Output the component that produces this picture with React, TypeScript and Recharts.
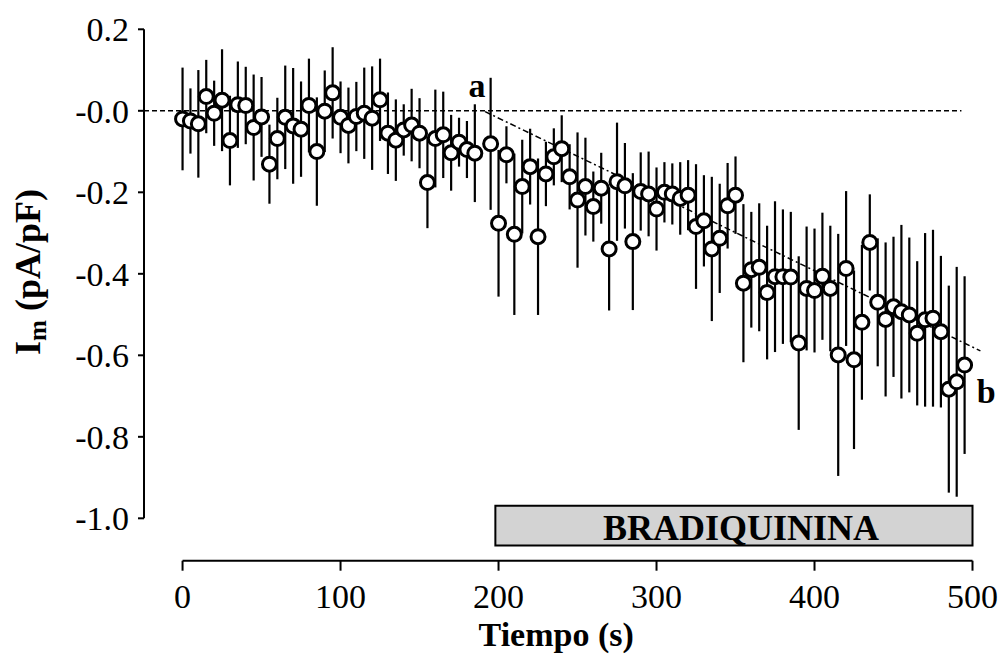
import React from 'react';
import {
  ScatterChart,
  Scatter,
  XAxis,
  YAxis,
  ErrorBar,
  ReferenceLine,
  ReferenceArea,
  ReferenceDot,
} from 'recharts';

// ---- data ----
const times = [
  0, 5, 10, 15, 20, 25, 30, 35, 40, 45, 50, 55, 60, 65, 70, 75, 80, 85, 90, 95,
  100, 105, 110, 115, 120, 125, 130, 135, 140, 145, 150, 155, 160, 165, 170, 175, 180, 185,
  195, 200, 205, 210, 215, 220, 225, 230, 235, 240, 245, 250, 255, 260, 265, 270, 275, 280,
  285, 290, 295, 300, 305, 310, 315, 320, 325, 330, 335, 340, 345, 350, 355, 360, 365, 370,
  375, 380, 385, 390, 395, 400, 405, 410, 415, 420, 425, 430, 435, 440, 445, 450, 455, 460,
  465, 470, 475, 480, 485, 490, 495,
];
const currents = [
  -0.02, -0.025, -0.032, 0.035, -0.006, 0.026, -0.073, 0.015, 0.013, -0.041, -0.015, -0.131,
  -0.068, -0.016, -0.037, -0.045, 0.013, -0.1, -0.001, 0.044,
  -0.016, -0.036, -0.014, -0.006, -0.018, 0.027, -0.055, -0.072, -0.047, -0.035, -0.055, -0.176,
  -0.068, -0.059, -0.103, -0.077, -0.095, -0.104,
  -0.081, -0.276, -0.108, -0.303, -0.186, -0.137, -0.309, -0.155, -0.113, -0.093, -0.162, -0.219,
  -0.186, -0.235, -0.19, -0.339, -0.174, -0.184,
  -0.321, -0.198, -0.204, -0.241, -0.2, -0.204, -0.215, -0.207, -0.284, -0.27, -0.339, -0.313,
  -0.233, -0.207, -0.423, -0.39, -0.384, -0.446,
  -0.407, -0.407, -0.408, -0.57, -0.436, -0.441, -0.406, -0.436, -0.599, -0.387, -0.611, -0.519,
  -0.323, -0.47, -0.512, -0.481, -0.493, -0.501,
  -0.546, -0.513, -0.509, -0.542, -0.683, -0.665, -0.624,
];
const errors = [
  0.126, 0.08, 0.132, 0.09, 0.08, 0.125, 0.11, 0.106, 0.095, 0.13, 0.098, 0.097,
  0.1, 0.127, 0.142, 0.117, 0.115, 0.133, 0.1, 0.112,
  0.088, 0.093, 0.085, 0.112, 0.127, 0.101, 0.1, 0.1, 0.063, 0.089, 0.086, 0.112,
  0.12, 0.106, 0.093, 0.06, 0.07, 0.12,
  0.162, 0.18, 0.07, 0.198, 0.115, 0.093, 0.192, 0.079, 0.07, 0.082, 0.08, 0.166,
  0.12, 0.086, 0.087, 0.151, 0.145, 0.105,
  0.168, 0.096, 0.104, 0.102, 0.074, 0.075, 0.089, 0.086, 0.153, 0.112, 0.177, 0.134,
  0.105, 0.095, 0.194, 0.142, 0.157, 0.164,
  0.185, 0.165, 0.16, 0.213, 0.152, 0.152, 0.156, 0.154, 0.297, 0.19, 0.219, 0.19,
  0.118, 0.157, 0.189, 0.172, 0.213, 0.19,
  0.177, 0.213, 0.217, 0.186, 0.254, 0.282, 0.218,
];

const xTicks = [0, 100, 200, 300, 400, 500];
const yTicks = [0.2, 0, -0.2, -0.4, -0.6, -0.8, -1.0];

const xTitle = 'Tiempo (s)';
const yTitleMain = 'I';
const yTitleSub = 'm';
const yTitleUnit = ' (pA/pF)';

const stimulusLabel = 'BRADIQUININA';
const stimulusStart = 198;
const stimulusEnd = 500;
const stimulusTop = -0.969;
const stimulusBottom = -1.067;

// baseline and trend segments (endpoints in data units)
const baselineStart = { x: -24.4, y: 0 };
const baselineEnd = { x: 493, y: 0 };
const trendStart = { x: 191.5, y: -0.002 };
const trendEnd = { x: 505, y: -0.589 };

// point labels
const labelA = { text: 'a', x: 181, y: 0.034 };
const labelB = { text: 'b', x: 502.7, y: -0.717 };

const X_DOMAIN: [number, number] = [-24.4, 505];
const Y_DOMAIN: [number, number] = [-1.104, 0.2];

const data = times.map((t, i) => ({ t, v: currents[i], err: errors[i] }));

const FONT = '"Liberation Serif", "Times New Roman", Times, serif';

const Circle = (props: any) => {
  const { cx, cy } = props;
  if (cx == null || cy == null) return null;
  return <circle cx={cx} cy={cy} r={7} fill="#fff" stroke="#000" strokeWidth={3} />;
};

const textShape = (txt: string) => (props: any) => (
  <text
    x={props.cx}
    y={props.cy}
    fontFamily={FONT}
    fontWeight="bold"
    fontSize={34}
    fill="#000"
    textAnchor="start"
  >
    {txt}
  </text>
);

const fmtY = (v: number) => (Math.abs(v) < 1e-9 ? '-0.0' : v.toFixed(1));

export default function App() {
  return (
    <div style={{ position: 'absolute', left: 0, top: 0, width: 999, height: 661 }}>
      <ScatterChart
        width={999}
        height={661}
        margin={{ top: 29.3, right: 18.6, bottom: 20.3, left: 0 }}
        style={{ fontFamily: FONT }}
      >
        <XAxis
          type="number"
          dataKey="t"
          domain={X_DOMAIN}
          allowDataOverflow
          ticks={xTicks}
          axisLine={false}
          tickLine={{ stroke: '#000', strokeWidth: 2 }}
          tickSize={10}
          tickMargin={13}
          height={80}
          tick={{ fill: '#000', fontSize: 34, fontFamily: FONT }}
          label={{
            content: (p: any) => {
              const vb = p.viewBox || {};
              return (
                <text
                  x={vb.x + vb.width / 2 - 6}
                  y={646}
                  textAnchor="middle"
                  fontFamily={FONT}
                  fontWeight="bold"
                  fontSize={34}
                  fill="#000"
                >
                  {xTitle}
                </text>
              );
            },
          }}
        />
        <YAxis
          type="number"
          dataKey="v"
          domain={Y_DOMAIN}
          allowDataOverflow
          ticks={yTicks}
          tickFormatter={fmtY}
          axisLine={false}
          tickLine={{ stroke: '#000', strokeWidth: 2 }}
          tickSize={6}
          tickMargin={9}
          width={144}
          tick={{ fill: '#000', fontSize: 34, fontFamily: FONT }}
          label={{
            content: () => (
              <text
                x={28}
                y={272}
                transform="rotate(-90, 28, 272)"
                textAnchor="middle"
                dominantBaseline="central"
                fontFamily={FONT}
                fontWeight="bold"
                fontSize={36}
                fill="#000"
              >
                {yTitleMain}
                <tspan fontSize={25} dy={9}>
                  {yTitleSub}
                </tspan>
                <tspan dy={-9}>{yTitleUnit}</tspan>
              </text>
            ),
          }}
        />

        {/* axis lines drawn as offset segments */}
        <ReferenceLine
          segment={[
            { x: X_DOMAIN[0], y: yTicks[yTicks.length - 1] },
            { x: X_DOMAIN[0], y: yTicks[0] },
          ]}
          stroke="#000"
          strokeWidth={2}
          ifOverflow="visible"
        />
        <ReferenceLine
          segment={[
            { x: xTicks[0], y: Y_DOMAIN[0] },
            { x: xTicks[xTicks.length - 1], y: Y_DOMAIN[0] },
          ]}
          stroke="#000"
          strokeWidth={2}
          ifOverflow="visible"
        />

        <ReferenceArea
          x1={stimulusStart}
          x2={stimulusEnd}
          y1={stimulusBottom}
          y2={stimulusTop}
          fill="#d3d3d3"
          fillOpacity={1}
          stroke="#000"
          strokeWidth={2}
          ifOverflow="visible"
          label={{
            content: (p: any) => {
              const vb = p.viewBox || {};
              return (
                <text
                  x={vb.x + vb.width / 2 + 7}
                  y={vb.y + vb.height / 2 + 2}
                  textAnchor="middle"
                  dominantBaseline="central"
                  fontFamily={FONT}
                  fontWeight="bold"
                  fontSize={36}
                  fill="#000"
                >
                  {stimulusLabel}
                </text>
              );
            },
          }}
        />

        <ReferenceLine
          segment={[baselineStart, baselineEnd]}
          stroke="#000"
          strokeWidth={1.5}
          strokeDasharray="5 3"
          ifOverflow="visible"
        />
        <ReferenceLine
          segment={[trendStart, trendEnd]}
          stroke="#000"
          strokeWidth={1.5}
          strokeDasharray="6 3 2 3"
          ifOverflow="visible"
        />

        <Scatter data={data} dataKey="v" shape={Circle} isAnimationActive={false}>
          <ErrorBar dataKey="err" direction="y" width={0} stroke="#000" strokeWidth={2.2} />
        </Scatter>

        <ReferenceDot
          x={labelA.x}
          y={labelA.y}
          r={0}
          ifOverflow="visible"
          shape={textShape(labelA.text)}
        />
        <ReferenceDot
          x={labelB.x}
          y={labelB.y}
          r={0}
          ifOverflow="visible"
          shape={textShape(labelB.text)}
        />
      </ScatterChart>
    </div>
  );
}
